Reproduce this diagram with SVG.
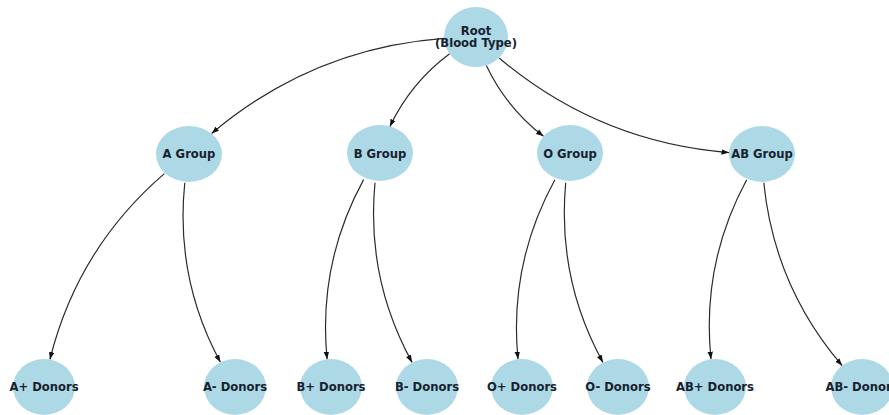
<svg xmlns="http://www.w3.org/2000/svg" width="889" height="415" viewBox="0 0 889 415">
  <style>
    .edge { fill: none; stroke: #2b2b2b; stroke-width: 1.2; marker-end: url(#arrow); }
    .node ellipse { fill: #add8e6; }
    .node text { font-family: "DejaVu Sans", "Liberation Sans", sans-serif; font-size: 11.6px; font-weight: bold; fill: #18222e; text-anchor: middle; dominant-baseline: central; }
  </style>
  <defs>
    <marker id="arrow" markerUnits="userSpaceOnUse" markerWidth="8" markerHeight="6" refX="7.5" refY="3" orient="auto">
      <path d="M0,0.3 L7.5,3 L0,5.7 z" fill="#111"/>
    </marker>
  </defs>
  <rect width="889" height="415" fill="#ffffff"/>

  <!-- curved edges, trimmed to the node outlines -->
  <g id="edges">
    <path class="edge" d="M444,38.3 Q312.4,48.1 211.6,133.5"/>
    <path class="edge" d="M449.6,53.8 Q410.7,82.8 389.8,126.7"/>
    <path class="edge" d="M486.3,65.4 Q506.5,107.8 543.5,136.3"/>
    <path class="edge" d="M499.1,58 Q598.9,142.3 729,152.6"/>
    <path class="edge" d="M164.4,173.6 Q77.6,248.2 49.9,359.5"/>
    <path class="edge" d="M184.8,182.8 Q174.9,278 220.4,362.3"/>
    <path class="edge" d="M363.6,179.6 Q317.7,263.7 327.1,359.3"/>
    <path class="edge" d="M375,182.8 Q365.9,278.3 412.1,362.4"/>
    <path class="edge" d="M554.9,179.8 Q508.7,264.2 518,359.2"/>
    <path class="edge" d="M565.7,182.8 Q556.9,278.8 603,362.5"/>
    <path class="edge" d="M746.7,179.7 Q701.2,263.9 711,359.2"/>
    <path class="edge" d="M763.8,182.8 Q774.3,286.6 842.2,365.7"/>
  </g>

  <!-- nodes -->
  <g id="root" class="node">
    <ellipse cx="476" cy="37" rx="32" ry="30"/>
    <text x="476" y="30.5">Root</text>
    <text x="476" y="43">(Blood Type)</text>
  </g>
  <g id="a-group" class="node">
    <ellipse cx="189" cy="154" rx="33" ry="28"/>
    <text x="189" y="154">A Group</text>
  </g>
  <g id="b-group" class="node">
    <ellipse cx="380" cy="153" rx="33" ry="28"/>
    <text x="380" y="154">B Group</text>
  </g>
  <g id="o-group" class="node">
    <ellipse cx="570" cy="153" rx="33" ry="28"/>
    <text x="570" y="154">O Group</text>
  </g>
  <g id="ab-group" class="node">
    <ellipse cx="762" cy="154" rx="33" ry="28"/>
    <text x="762" y="154">AB Group</text>
  </g>
  <g id="a-pos" class="node">
    <ellipse cx="44" cy="387" rx="31" ry="28"/>
    <text x="44" y="387">A+ Donors</text>
  </g>
  <g id="a-neg" class="node">
    <ellipse cx="235" cy="387" rx="31" ry="28"/>
    <text x="235" y="387">A- Donors</text>
  </g>
  <g id="b-pos" class="node">
    <ellipse cx="331" cy="387" rx="31" ry="28"/>
    <text x="331" y="387">B+ Donors</text>
  </g>
  <g id="b-neg" class="node">
    <ellipse cx="427" cy="387" rx="31" ry="28"/>
    <text x="427" y="387">B- Donors</text>
  </g>
  <g id="o-pos" class="node">
    <ellipse cx="522" cy="387" rx="31" ry="28"/>
    <text x="522" y="387">O+ Donors</text>
  </g>
  <g id="o-neg" class="node">
    <ellipse cx="618" cy="387" rx="31" ry="28"/>
    <text x="618" y="387">O- Donors</text>
  </g>
  <g id="ab-pos" class="node">
    <ellipse cx="715" cy="387" rx="31" ry="28"/>
    <text x="715" y="387">AB+ Donors</text>
  </g>
  <g id="ab-neg" class="node">
    <ellipse cx="862" cy="387" rx="31" ry="28"/>
    <text x="862" y="387">AB- Donors</text>
  </g>
</svg>
